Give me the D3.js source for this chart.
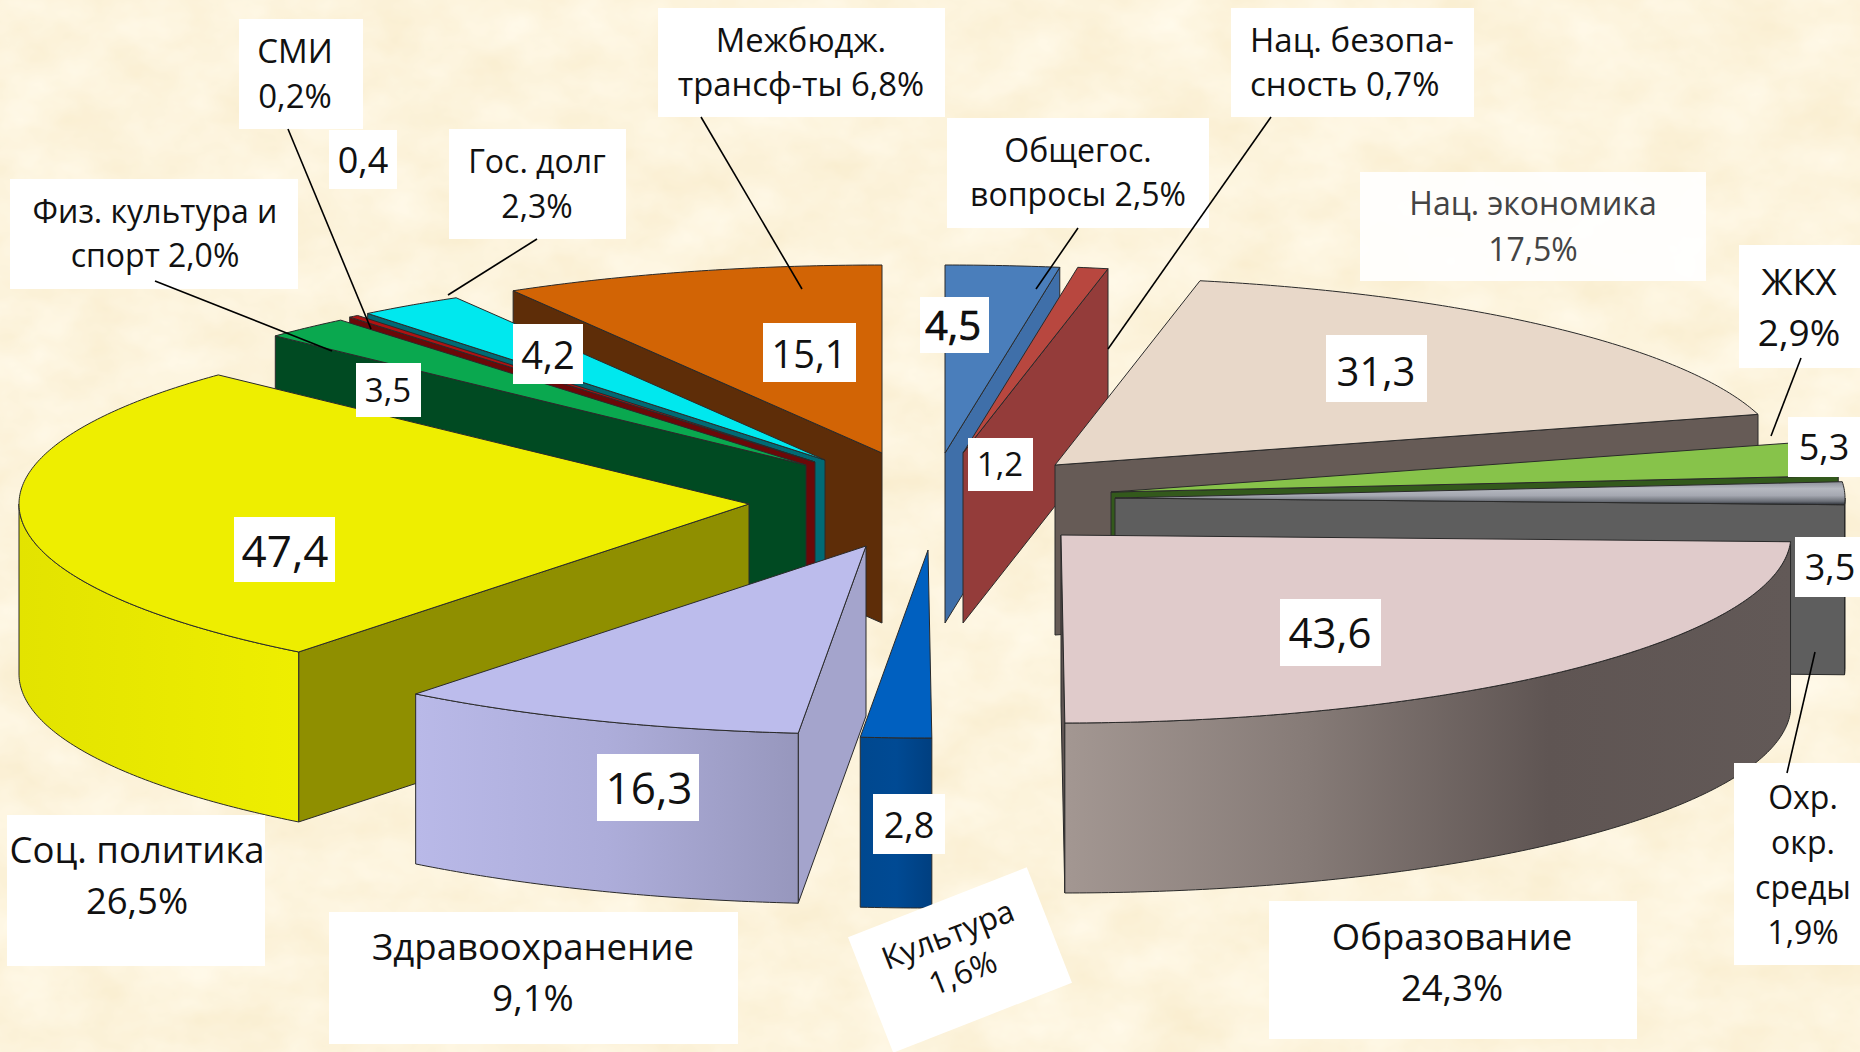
<!DOCTYPE html>
<html>
<head>
<meta charset="utf-8">
<script src="https://cdn.jsdelivr.net/npm/d3@7"></script>
<style>
  html, body { margin: 0; padding: 0; background: #fbefd6; }
  svg { display: block; }
  text { font-family: "Open Sans", "Noto Sans", sans-serif; fill: #111; }
</style>
</head>
<body>
<svg id="chart" width="1860" height="1052"></svg>
<script>
// ---------- data (clockwise from 12 o'clock) ----------
const categories = ["Общегос.", "Нац. безопасность", "Нац. экономика", "ЖКХ", "Охр. окр. среды", "Образование",
  "Культура", "Здравоохранение", "Соц. политика", "Физ. культура и спорт", "СМИ", "Гос. долг", "Межбюдж. трансферты"];
const values = [4.5, 1.2, 31.3, 5.3, 3.5, 43.6, 2.8, 16.3, 47.4, 3.5, 0.4, 4.2, 15.1];
const percents = [2.5, 0.7, 17.5, 2.9, 1.9, 24.3, 1.6, 9.1, 26.5, 2.0, 0.2, 2.3, 6.8];
const captionLines = ["Общегос.|вопросы ", "Нац. безопа-|сность ", "Нац. экономика|", "ЖКХ|", "Охр.|окр.|среды|", "Образование|",
  "Культура|", "Здравоохранение|", "Соц. политика|", "Физ. культура и|спорт ", "СМИ|", "Гос. долг|", "Межбюдж.|трансф-ты "];

// ---------- layout ----------
const RX = 730, RY = 188, DEPTH = 170;
// where each exploded slice has its tip on the page
const tips = [[945, 453], [963, 453], [1055, 465], [1111, 492], [1115, 498], [1061, 535],
  [928, 550], [866, 546], [749, 504], [806, 465], [815, 462], [825, 460], [882, 453]];
const paintOrder = [12, 11, 10, 9, 8, 0, 1, 2, 3, 4, 5, 7, 6];

const styles = [
  { top: "#4a7ebb", side: "#3f6fa9", wall: ["#3f6fa9"] },
  { top: "#b8473f", side: "#943c3a", wall: ["#943c3a"] },
  { top: "#e8d8c9", side: "#665b56", wall: ["#665b56"] },
  { top: "#87c34a", side: "#33591c", wall: ["#33591c"] },
  { top: "url(#chromeTop)", side: "#5e5e5e", wall: ["#5e5e5e"] },
  { top: "#e0cbcb", side: "#5f5553", wall: ["#a39792", "#867b77", "#5f5553", "#625957"] },
  { top: "#0060c0", side: "#00488f", wall: ["#00488f", "#004a94", "#003f80"] },
  { top: "#bcbcec", side: "#a4a4cc", wall: ["#b9b9e8", "#adadda", "#9797bd"] },
  { top: "#eeee00", side: "#8f8f00", wall: ["#e3e300", "#eeee00"] },
  { top: "#0aa84f", side: "#004a22", wall: ["#004a22"] },
  { top: "#b01212", side: "#6b0808", wall: ["#6b0808"] },
  { top: "#00e8ee", side: "#006a74", wall: ["#006a74"] },
  { top: "#d26405", side: "#5e2d08", wall: ["#5e2d08"] }
];

const commaFmt = d3.formatLocale({ decimal: ",", thousands: " ", grouping: [3], currency: ["", ""] }).format(".1f");

const svg = d3.select("#chart");
const defs = svg.append("defs");

// ---------- parchment background ----------
const tex = defs.append("filter").attr("id", "parchment").attr("x", 0).attr("y", 0).attr("width", "100%").attr("height", "100%")
  .attr("color-interpolation-filters", "sRGB");
tex.append("feTurbulence").attr("type", "fractalNoise").attr("baseFrequency", "0.014 0.02").attr("numOctaves", 4).attr("seed", 7);
tex.append("feColorMatrix").attr("type", "matrix").attr("values",
  "0.03 0 0 0 0.975  0.06 0 0 0 0.925  0.13 0 0 0 0.80  0 0 0 0 1");
svg.append("rect").attr("width", 1860).attr("height", 1052).attr("filter", "url(#parchment)");

const chrome = defs.append("linearGradient").attr("id", "chromeTop").attr("x1", 0).attr("x2", 0).attr("y1", 0).attr("y2", 1);
[[0, "#8d9099"], [0.3, "#b6b9c1"], [0.6, "#a5a8b1"], [0.85, "#6c7078"], [1, "#2c3038"]].forEach(s =>
  chrome.append("stop").attr("offset", s[0]).attr("stop-color", s[1]));

// ---------- slices ----------
const pie = d3.pie().sort(null).value(d => d);
const arcs = pie(values);
const sx = d3.scaleLinear().domain([-1, 1]).range([-RX, RX]);
const sy = d3.scaleLinear().domain([-1, 1]).range([-RY, RY]);
const rim = (a, i) => [tips[i][0] + sx(Math.sin(a)), tips[i][1] + sy(-Math.cos(a))];
const line = d3.line();

function rimPoints(a0, a1, i) {
  const n = Math.max(2, Math.ceil((a1 - a0) / 0.01));
  return d3.range(n + 1).map(k => rim(a0 + (a1 - a0) * k / n, i));
}
const drop = pts => pts.map(p => [p[0], p[1] + DEPTH]);

const outline = { stroke: "#2a2a2a", "stroke-width": 1, "stroke-linejoin": "round" };
function face(g, pts, fill) {
  const p = g.append("path").attr("d", line(pts) + "Z").attr("fill", fill);
  Object.entries(outline).forEach(([k, v]) => p.attr(k, v));
}

const sliceG = svg.append("g");
paintOrder.forEach(i => {
  const d = arcs[i], st = styles[i], g = sliceG.append("g").attr("class", "slice");
  const tip = tips[i];
  const a0 = d.startAngle, a1 = d.endAngle;

  // straight cut walls, only the ones turned towards the viewer
  if (Math.sin(a0) < 0) {
    const e = rim(a0, i);
    face(g, [tip, e, [e[0], e[1] + DEPTH], [tip[0], tip[1] + DEPTH]], st.side);
  }
  if (Math.sin(a1) > 0) {
    const e = rim(a1, i);
    face(g, [tip, e, [e[0], e[1] + DEPTH], [tip[0], tip[1] + DEPTH]], st.side);
  }

  // curved outer wall, lower half of the ellipse only
  const w0 = Math.max(a0, Math.PI / 2), w1 = Math.min(a1, Math.PI * 1.5);
  if (w1 > w0) {
    const top = rimPoints(w0, w1, i);
    const xs = d3.extent(top, p => p[0]);
    const id = `wall${i}`;
    const grad = defs.append("linearGradient").attr("id", id).attr("gradientUnits", "userSpaceOnUse")
      .attr("x1", xs[0]).attr("x2", xs[1]).attr("y1", 0).attr("y2", 0);
    st.wall.forEach((c, k) => grad.append("stop").attr("offset", st.wall.length > 1 ? k / (st.wall.length - 1) : 0).attr("stop-color", c));
    face(g, top.concat(drop(top).reverse()), `url(#${id})`);
  }

  // top face
  face(g, [tip].concat(rimPoints(a0, a1, i)), st.top);
});

// ---------- captions ----------
const captionBoxes = [
  { i: 0, box: [947, 118, 1209, 228], cx: 1078, y: 162, dy: 44, fs: 32 },
  { i: 1, box: [1231, 8, 1474, 117], x: 1250, y: 52, dy: 44, fs: 33 },
  { i: 2, box: [1360, 172, 1706, 281], cx: 1533, y: 215, dy: 46, fs: 32, dim: true },
  { i: 3, box: [1739, 245, 1860, 368], cx: 1799, y: 295, dy: 51, fs: 37 },
  { i: 4, box: [1734, 763, 1860, 965], cx: 1803, y: 809, dy: 45, fs: 32 },
  { i: 5, box: [1269, 901, 1637, 1039], cx: 1452, y: 950, dy: 51, fs: 36.5 },
  { i: 7, box: [329, 912, 738, 1044], cx: 533, y: 960, dy: 51, fs: 36.5 },
  { i: 8, box: [7, 815, 265, 966], cx: 137, y: 863, dy: 51, fs: 36.5 },
  { i: 9, box: [10, 179, 298, 289], cx: 155, y: 223, dy: 44, fs: 32 },
  { i: 10, box: [239, 19, 363, 129], cx: 295, y: 63, dy: 45, fs: 33 },
  { i: 11, box: [449, 129, 626, 239], cx: 537, y: 173, dy: 45, fs: 32 },
  { i: 12, box: [658, 8, 945, 117], cx: 801, y: 52, dy: 44, fs: 32.8 }
];
const valueBoxes = [
  { i: 0, box: [920, 297, 989, 353], cx: 953, y: 340, fs: 40, heavy: true },
  { i: 1, box: [968, 438, 1033, 491], cx: 1000, y: 476, fs: 33 },
  { i: 2, box: [1326, 335, 1427, 402], cx: 1376, y: 386, fs: 40 },
  { i: 3, box: [1788, 417, 1860, 477], cx: 1824, y: 460, fs: 36 },
  { i: 4, box: [1795, 537, 1860, 597], cx: 1830, y: 580, fs: 36 },
  { i: 5, box: [1280, 599, 1381, 666], cx: 1330, y: 648, fs: 42 },
  { i: 6, box: [873, 794, 945, 854], cx: 909, y: 838, fs: 36 },
  { i: 7, box: [597, 754, 699, 821], cx: 649, y: 804, fs: 44 },
  { i: 8, box: [234, 517, 335, 582], cx: 285, y: 567, fs: 44 },
  { i: 9, box: [356, 363, 421, 417], cx: 388, y: 402, fs: 33 },
  { i: 10, box: [329, 130, 397, 189], cx: 363, y: 173, fs: 36 },
  { i: 11, box: [513, 324, 583, 384], cx: 548, y: 369, fs: 38 },
  { i: 12, box: [763, 323, 856, 382], cx: 809, y: 368, fs: 38 }
];
const leaders = [
  [[288, 129], [371, 329]], [[155, 281], [332, 351]], [[537, 239], [448, 295]], [[701, 117], [802, 289]],
  [[1078, 228], [1036, 289]], [[1271, 117], [1108, 349]], [[1801, 358], [1771, 436]], [[1815, 652], [1787, 773]]
];

const labelG = svg.append("g");
const captionText = i => (captionLines[i] + commaFmt(percents[i]) + "%").split("|");

captionBoxes.forEach(c => {
  labelG.append("rect").attr("x", c.box[0]).attr("y", c.box[1]).attr("width", c.box[2] - c.box[0]).attr("height", c.box[3] - c.box[1])
    .attr("fill", "#fff").attr("fill-opacity", c.dim ? 0.9 : 1);
  captionText(c.i).forEach((t, k) => {
    labelG.append("text").attr("x", c.x || c.cx).attr("y", c.y + k * c.dy).attr("text-anchor", c.x ? "start" : "middle")
      .attr("font-size", c.fs).style("fill", c.dim ? "#444" : "#111").text(t);
  });
});

valueBoxes.forEach(c => {
  labelG.append("rect").attr("x", c.box[0]).attr("y", c.box[1]).attr("width", c.box[2] - c.box[0]).attr("height", c.box[3] - c.box[1]).attr("fill", "#fff");
  labelG.append("text").attr("x", c.cx).attr("y", c.y).attr("text-anchor", "middle").attr("font-size", c.fs)
    .attr("stroke", c.heavy ? "#000" : "none").attr("stroke-width", c.heavy ? 0.7 : 0).text(commaFmt(values[c.i]));
});

// the tilted caption of Культура
const tilted = labelG.append("g").attr("transform", "translate(960,960) rotate(-21.4)");
tilted.append("rect").attr("x", -96).attr("y", -62).attr("width", 192).attr("height", 124).attr("fill", "#fff");
captionText(6).forEach((t, k) => {
  tilted.append("text").attr("x", -2).attr("y", -17 + k * 41).attr("text-anchor", "middle").attr("font-size", 31.5).text(t);
});

leaders.forEach(l => {
  labelG.append("path").attr("d", line(l)).attr("stroke", "#000").attr("stroke-width", 1.6).attr("fill", "none");
});
</script>
</body>
</html>
